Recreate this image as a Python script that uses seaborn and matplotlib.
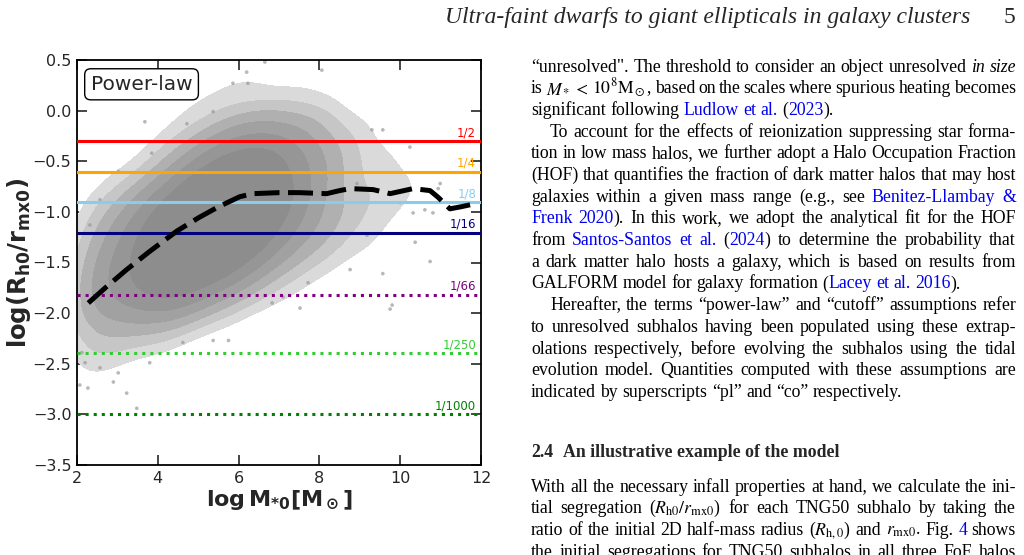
import re
import numpy as np
import pandas as pd
import matplotlib
matplotlib.use("Agg")
import matplotlib.pyplot as plt
from matplotlib.colors import LinearSegmentedColormap
import seaborn as sns

# ---------------- data ----------------
# density of the subhalo cloud (relative counts per cell)
grid_x = [2.25, 2.75, 3.25, 3.75, 4.25, 4.75, 5.25, 5.75, 6.25, 6.75,
          7.25, 7.75, 8.25, 8.75, 9.25, 9.75, 10.25, 10.75, 11.25, 11.75]
grid_y = [0.375, 0.125, -0.125, -0.375, -0.625, -0.875, -1.125,
          -1.375, -1.625, -1.875, -2.125, -2.375, -2.625, -2.875]
grid_counts = [
    [0, 0, 0, 0, 0, 0, 0, 1, 1, 1, 0, 1, 0, 0, 0, 0, 0, 0, 0, 0],
    [0, 0, 0, 0, 0, 1, 1, 1, 1, 1, 1, 1, 1, 0, 0, 0, 0, 0, 0, 0],
    [0, 0, 0, 0, 1, 1, 2, 3, 4, 4, 3, 3, 2, 1, 1, 0, 0, 0, 0, 0],
    [0, 0, 0, 1, 2, 3, 5, 6, 7, 7, 6, 4, 3, 2, 1, 1, 1, 0, 0, 0],
    [0, 1, 1, 2, 4, 6, 8, 9, 9, 8, 7, 5, 3, 2, 1, 1, 1, 1, 0, 0],
    [1, 2, 3, 5, 7, 9, 10, 10, 10, 9, 7, 5, 3, 2, 2, 1, 1, 1, 0, 0],
    [2, 3, 5, 7, 9, 10, 10, 10, 9, 8, 6, 4, 3, 2, 1, 1, 0, 1, 0, 0],
    [3, 4, 6, 8, 10, 10, 10, 9, 8, 6, 4, 3, 2, 1, 1, 1, 0, 0, 0, 0],
    [4, 5, 6, 8, 9, 9, 8, 7, 5, 3, 2, 1, 1, 0, 0, 0, 0, 0, 0, 0],
    [4, 5, 5, 6, 7, 6, 4, 3, 2, 1, 1, 0, 0, 0, 0, 0, 0, 0, 0, 0],
    [3, 3, 3, 3, 3, 2, 1, 1, 0, 0, 0, 0, 0, 0, 0, 0, 0, 0, 0, 0],
    [2, 2, 1, 1, 1, 0, 0, 0, 0, 0, 0, 0, 0, 0, 0, 0, 0, 0, 0, 0],
    [1, 1, 0, 0, 0, 0, 0, 0, 0, 0, 0, 0, 0, 0, 0, 0, 0, 0, 0, 0],
    [0, 0, 0, 0, 0, 0, 0, 0, 0, 0, 0, 0, 0, 0, 0, 0, 0, 0, 0, 0],
]

# isolated subhalos visible at the edges of the cloud
sparse_mass = [3.68, 3.02, 2.32, 2.57, 3.85, 5.37, 5.86, 6.20, 6.23, 4.72,
               6.65, 8.06, 9.30, 9.57, 10.24, 10.99, 10.94, 10.74, 10.37, 10.00,
               10.32, 9.57, 8.76, 9.18, 8.93, 10.81, 10.61,
               2.07, 2.27, 2.57, 3.02, 3.23, 3.48, 2.90, 3.80, 4.62, 5.37, 5.75,
               2.12, 2.20, 6.83, 7.52, 9.80, 9.75, 7.10, 7.72]
sparse_seg = [-0.11, -0.60, -1.13, -0.88, -0.42, -0.01, 0.27, 0.38, 0.27, -0.13,
              0.48, 0.40, -0.19, -0.19, -0.36, -0.72, -0.77, -1.49, -1.30, -0.91,
              -1.01, -1.61, -1.57, -1.23, -0.72, -1.01, -0.98,
              -2.71, -2.74, -2.54, -2.59, -2.79, -2.94, -2.68, -2.49, -2.29, -2.27, -2.27,
              -2.39, -2.49, -1.90, -1.95, -1.92, -1.96, -1.84, -1.70]

# running median (dashed curve)
median_mass = [2.28, 2.7, 3.23, 3.8, 4.47, 5.0, 5.5, 6.03, 6.36, 7.0, 7.5,
               8.18, 8.5, 8.76, 9.33, 9.75, 10.32, 10.74, 10.95, 11.23, 11.5, 11.73]
median_seg = [-1.90, -1.75, -1.57, -1.39, -1.19, -1.06, -0.95, -0.85, -0.82,
              -0.81, -0.81, -0.82, -0.79, -0.77, -0.78, -0.82, -0.77, -0.79,
              -0.86, -0.97, -0.95, -0.93]

# segregation reference lines
frac_labels = ["1/2", "1/4", "1/8", "1/16", "1/66", "1/250", "1/1000"]
frac_values = [1 / 2, 1 / 4, 1 / 8, 1 / 16, 1 / 66, 1 / 250, 1 / 1000]
frac_colors = ["red", "orange", "skyblue", "navy", "purple", "limegreen", "green"]
frac_styles = ["-", "-", "-", "-", ":", ":", ":"]

x_ticks = [2, 4, 6, 8, 10, 12]
y_ticks = [-3.5, -3.0, -2.5, -2.0, -1.5, -1.0, -0.5, 0.0, 0.5]

# ---------------- figure ----------------
sns.set_style("ticks")
plt.rcParams["font.family"] = ["DejaVu Sans"]
W, H = 1024, 555
fig = plt.figure(figsize=(W / 100, H / 100), dpi=100)
ax = fig.add_axes([77 / W, 1 - 465 / H, 404 / W, 405 / H])

gx, gy = np.meshgrid(grid_x, grid_y)
cloud = pd.DataFrame({"mass": gx.ravel(), "seg": gy.ravel(),
                      "n": np.array(grid_counts, dtype=float).ravel()})
cloud = cloud[cloud["n"] > 0]

gray_map = LinearSegmentedColormap.from_list(
    "cloud", ["#e3e3e3", "#b4b4b4", "#9d9d9d", "#929292", "#8d8d8d", "#8a8a8a"])
sns.kdeplot(data=cloud, x="mass", y="seg", weights="n", fill=True,
            levels=[0.06, 0.12, 0.19, 0.28, 0.4, 0.55, 1.0], cmap=gray_map,
            bw_adjust=0.65, ax=ax, zorder=1)

sns.scatterplot(x=sparse_mass, y=sparse_seg, s=7, color="#9a9a9a", alpha=0.7,
                edgecolor="none", ax=ax, zorder=2)

for lab, val, col, ls in zip(frac_labels, frac_values, frac_colors, frac_styles):
    yv = np.log10(val)
    ax.axhline(yv, color=col, lw=2.2, ls=ls, zorder=3)
    ax.text(11.88, yv + 0.05, lab, color=col, fontsize=8.5, ha="right",
            va="baseline", zorder=4)

sns.lineplot(x=median_mass, y=median_seg, color="black", lw=3.6,
             linestyle=(0, (5, 1.7)), ax=ax, zorder=5)

ax.set_xlim(2, 12)
ax.set_ylim(-3.5, 0.5)
ax.set_xticks(x_ticks)
ax.set_yticks(y_ticks)
ax.tick_params(direction="in", top=True, right=True, length=7, width=1.2,
               labelsize=11.5, pad=4)
for sp in ax.spines.values():
    sp.set_linewidth(1.3)
    sp.set_color("black")
ax.set_xlabel(r"$\mathbf{log\,M_{*0}[M_\odot]}$", fontsize=16, labelpad=2)
ax.set_ylabel(r"$\mathbf{log(R_{h0}/r_{mx0})}$", fontsize=17.5)
ax.yaxis.set_label_coords(-0.108, 0.5)

ax.text(0.034, 0.94, "Power-law", transform=ax.transAxes, fontsize=14.5,
        ha="left", va="center", zorder=6,
        bbox=dict(boxstyle="round,pad=0.3", fc="white", ec="black", lw=1))

# ---------------- page text ----------------
SERIF = ["Liberation Serif", "DejaVu Serif"]
FS = 12.8
renderer = fig.canvas.get_renderer()

fig.text(970 / W, 1 - 23 / H,
         "Ultra-faint dwarfs to giant ellipticals in galaxy clusters",
         family=SERIF, style="italic", fontsize=17, ha="right", va="baseline")
fig.text(1015 / W, 1 - 23 / H, "5", family=SERIF, fontsize=17, ha="right",
         va="baseline")


def parse_word(w):
    segs = []
    for m in re.finditer(r"§([^§]*)§|¤([^¤]*)¤|([^§¤]+)", w):
        if m.group(1) is not None:
            segs.append((m.group(1), "#0000ee", "normal"))
        elif m.group(2) is not None:
            segs.append((m.group(2), "black", "italic"))
        else:
            segs.append((m.group(3), "black", "normal"))
    return segs


def place_line(line, ybase, x0, x1, justify, weight="normal"):
    items = []
    for w in line.split(" "):
        if not w:
            continue
        arts = []
        for s, c, st in parse_word(w):
            t = fig.text(0, 0, s, color=c, style=st, fontsize=FS, family=SERIF,
                         weight=weight, math_fontfamily="stix",
                         ha="left", va="baseline")
            arts.append(t)
        items.append(arts)
    widths = [[a.get_window_extent(renderer).width for a in arts] for arts in items]
    total = sum(sum(ws) for ws in widths)
    n = len(items)
    gap = (x1 - x0 - total) / (n - 1) if (justify and n > 1) else FS * 100 / 72 * 0.25
    x = x0
    for arts, ws in zip(items, widths):
        for a, wpx in zip(arts, ws):
            a.set_position((x / W, 1 - ybase / H))
            x += wpx
        x += gap


X0, X1, IND = 531, 1016, 19
lines = [
    ("“unresolved\". The threshold to consider an object unresolved ¤in¤ ¤size¤", 0, True),
    (r"is $M_*$ $<$ $10^8\mathrm{M}_\odot$, based on the scales where spurious heating becomes", 0, True),
    ("significant following §Ludlow§ §et§ §al.§ (§2023§).", 0, False),
    ("To account for the effects of reionization suppressing star forma-", IND, True),
    ("tion in low mass halos, we further adopt a Halo Occupation Fraction", 0, True),
    ("(HOF) that quantifies the fraction of dark matter halos that may host", 0, True),
    ("galaxies within a given mass range (e.g., see §Benitez-Llambay§ §&§", 0, True),
    ("§Frenk§ §2020§). In this work, we adopt the analytical fit for the HOF", 0, True),
    ("from §Santos-Santos§ §et§ §al.§ (§2024§) to determine the probability that", 0, True),
    ("a dark matter halo hosts a galaxy, which is based on results from", 0, True),
    ("GALFORM model for galaxy formation (§Lacey§ §et§ §al.§ §2016§).", 0, False),
    ("Hereafter, the terms “power-law” and “cutoff” assumptions refer", IND, True),
    ("to unresolved subhalos having been populated using these extrap-", 0, True),
    ("olations respectively, before evolving the subhalos using the tidal", 0, True),
    ("evolution model. Quantities computed with these assumptions are", 0, True),
    ("indicated by superscripts “pl” and “co” respectively.", 0, False),
]
for i, (txt, ind, just) in enumerate(lines):
    place_line(txt, 71.5 + 21.7 * i, X0 + ind, X1, just)

fig.text(X0 / W, 1 - 457 / H, "2.4", family=SERIF, weight="bold", fontsize=FS,
         va="baseline")
fig.text(563 / W, 1 - 457 / H, "An illustrative example of the model",
         family=SERIF, weight="bold", fontsize=FS, va="baseline")

lines2 = [
    "With all the necessary infall properties at hand, we calculate the ini-",
    r"tial segregation ($R_{\mathrm{h0}}/r_{\mathrm{mx0}}$) for each TNG50 subhalo by taking the",
    r"ratio of the initial 2D half-mass radius ($R_{\mathrm{h,0}}$) and $r_{\mathrm{mx0}}$. Fig. §4§ shows",
    "the initial segregations for TNG50 subhalos in all three FoF halos",
]
for i, txt in enumerate(lines2):
    place_line(txt, 491.5 + 21.7 * i, X0, X1, True)

fig.savefig("out.png", dpi=100)
